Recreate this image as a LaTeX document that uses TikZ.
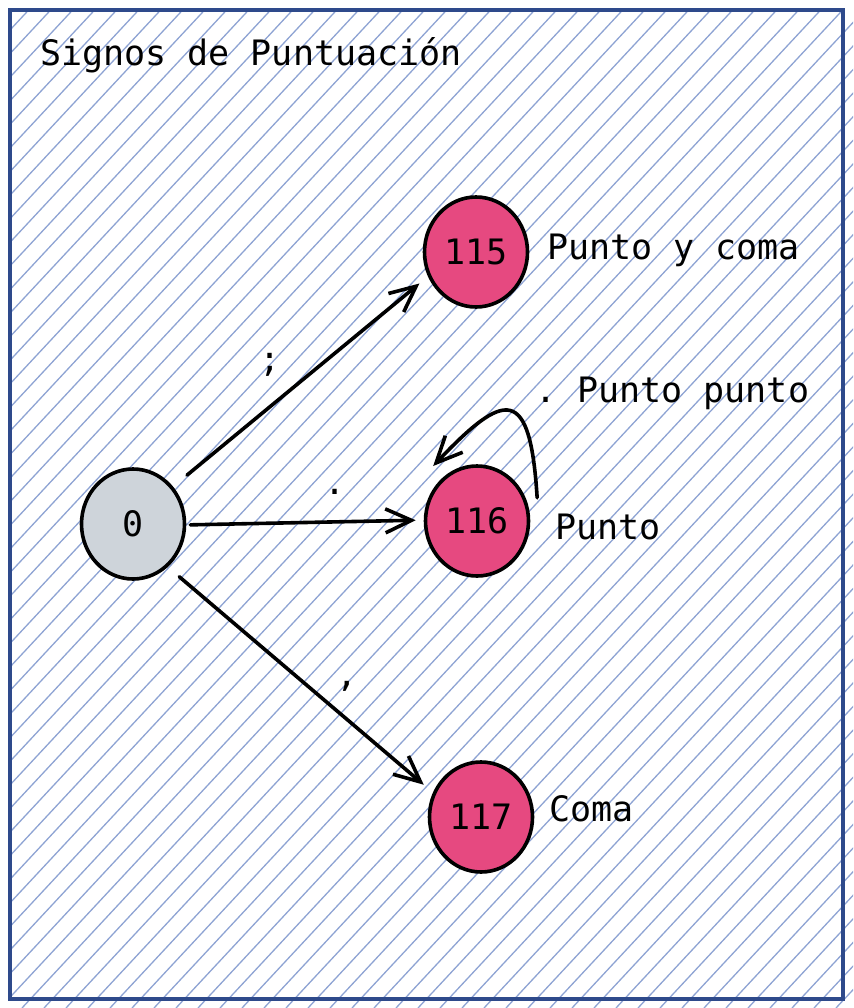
\documentclass[tikz,border=0pt]{standalone}
\usepackage{fontspec}
\setmonofont{DejaVu Sans Mono}
\usetikzlibrary{arrows.meta,shapes.geometric}
\definecolor{hatchblue}{HTML}{8EA3D3}
\definecolor{frameblue}{HTML}{2E4A8B}
\definecolor{statepink}{HTML}{E64980}
\definecolor{stategray}{HTML}{CED4DA}
\tikzset{
	stnode/.style={draw, line width=3.6pt, ellipse, minimum width=103pt, minimum height=110pt, inner sep=0pt, font=\ttfamily\fontsize{35}{40}\selectfont},
	trans/.style={line width=3.6pt, line cap=round, -{Straight Barb[length=26pt,width=24pt]}},
	txt/.style={inner sep=0pt, font=\ttfamily\fontsize{35}{40}\selectfont},
	hatch/.style={hatchblue, line width=1.3pt},
}

\begin{document}
\begin{tikzpicture}[x=1pt, y=-1pt]
			%%%%% START %%%%%
			\useasboundingbox (0, 0) rectangle (853, 1008);
			
			\begin{scope}
				\clip (10, 10) rectangle (853, 1008);
				\foreach \i in {-946,-924,...,870}
					\draw[hatch] (\i, 1008) -- ++(940, -1008);
			\end{scope}
			\draw[frameblue, line width=3.2pt] (10, 10) rectangle (843, 999);
			
			\node[txt, anchor=base west] (title) at (40, 66) {Signos de Puntuación};
			
			\node[stnode, fill=stategray] (n0) at (133, 524) {0};
			\node[stnode, fill=statepink] (n115) at (476, 252) {115};
			\node[stnode, fill=statepink] (n116) at (477, 521) {116};
			\node[stnode, fill=statepink] (n117) at (481, 817) {117};
			
			\node[txt, anchor=base west] (lab115) at (547, 259) {Punto y coma};
			\node[txt, anchor=base west] (loop116) at (535, 402) {. Punto punto};
			\node[txt, anchor=base west] (lab116) at (555, 539) {Punto};
			\node[txt, anchor=base west] (lab117) at (549, 821) {Coma};
			
			\draw[trans, shorten <=18pt, shorten >=11pt] (n0.43) -- (n115.-153);
			\draw[trans, shorten <=4pt, shorten >=8pt] (n0.-1) -- (n116.179);
			\draw[trans, shorten <=15pt, shorten >=12pt] (n0.-51) -- (n117.153);
			\draw[trans] ([shift={(10,-4)}]n116.21) .. controls +(-7, -113) and +(72, -76) .. ([shift={(-9,-12)}]n116.129);
			
			\node[txt] (sym115) at (270, 365) {;};
			\node[txt] (sym116) at (335, 492) {.};
			\node[txt] (sym117) at (347, 686) {,};
			%%%%% END %%%%%
\end{tikzpicture}
\end{document}
